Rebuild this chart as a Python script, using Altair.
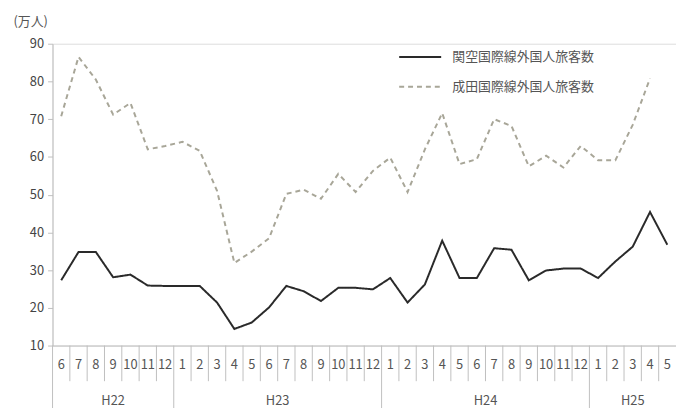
import altair as alt
import pandas as pd

# ---- data ----
years = ["H22", "H23", "H24", "H25"]
months_h22 = [6, 7, 8, 9, 10, 11, 12]
months_h23 = [1, 2, 3, 4, 5, 6, 7, 8, 9, 10, 11, 12]
months_h24 = [1, 2, 3, 4, 5, 6, 7, 8, 9, 10, 11, 12]
months_h25 = [1, 2, 3, 4, 5]

series_names = ["関空国際線外国人旅客数", "成田国際線外国人旅客数"]

kansai = [27.3, 34.8, 34.8, 28.1, 28.8, 25.9, 25.8,
          25.8, 25.8, 21.4, 14.4, 16.1, 20.1, 25.8, 24.4, 21.8, 25.3, 25.3, 24.9,
          27.9, 21.4, 26.2, 37.8, 27.9, 27.9, 35.8, 35.4, 27.3, 29.9, 30.4, 30.4,
          27.9, 32.3, 36.2, 45.4, 36.7]
narita = [70.8, 86.5, 80.5, 71.2, 74.3, 62.0, 62.9,
          64.0, 61.6, 51.0, 31.9, 34.9, 38.4, 50.2, 51.3, 48.9, 55.5, 50.7, 56.3,
          59.8, 50.7, 62.0, 71.6, 58.1, 59.4, 70.0, 68.2, 57.5, 60.3, 57.2, 62.9,
          59.1, 59.1, 68.5, 80.8, None]

y_ticks = [10, 20, 30, 40, 50, 60, 70, 80, 90]

# ---- tables built from the lists ----
month_groups = [months_h22, months_h23, months_h24, months_h25]
rows = []
idx = 0
year_rows = []
for yname, ms in zip(years, month_groups):
    start = idx
    for m in ms:
        rows.append({"i": idx, "month": str(m), "year": yname})
        idx += 1
    year_rows.append({"year": yname, "start": start - 0.5, "mid": (start + idx - 1) / 2})
n = idx
cat = pd.DataFrame(rows)
yr = pd.DataFrame(year_rows)

long_rows = []
for name, vals in zip(series_names, [kansai, narita]):
    for i, v in enumerate(vals):
        if v is not None:
            long_rows.append({"i": i, "value": v, "series": name})
df = pd.DataFrame(long_rows)

year_starts = set(yr["start"].tolist())
month_bounds = pd.DataFrame({"b": [k + 0.5 for k in range(n - 1) if (k + 0.5) not in year_starts]})

W, H = 630, 305
GREY = "#bfbfbf"
TXT = "#555555"
FONT = "Noto Sans CJK JP"

xscale = alt.Scale(domain=[-0.5, n - 0.5], nice=False, zero=False)

lines = alt.Chart(df).mark_line(strokeWidth=2).encode(
    x=alt.X("i:Q", scale=xscale,
            axis=alt.Axis(labels=False, ticks=False, grid=False, title=None,
                          domainColor=GREY, domainWidth=1)),
    y=alt.Y("value:Q", scale=alt.Scale(domain=[10, 90], nice=False, zero=False),
            axis=alt.Axis(values=y_ticks, grid=False, title="(万人)", titleAngle=0,
                          titleX=-40, titleY=-22, titleAlign="left", titleBaseline="middle",
                          titleFontSize=13, titleFontWeight="normal", titleColor=TXT,
                          labelFontSize=13, labelColor="#444444", labelPadding=4,
                          tickSize=5, tickColor=GREY, domainColor=GREY)),
    color=alt.Color("series:N", scale=alt.Scale(domain=series_names, range=["#2a2a2a", "#a8a698"]),
                    legend=alt.Legend(title=None, orient="none", legendX=349, legendY=-9,
                                      symbolType="stroke", symbolSize=1800, symbolStrokeWidth=2,
                                      labelFontSize=13, labelColor=TXT, labelFont=FONT,
                                      rowPadding=0, labelOffset=10)),
    strokeDash=alt.StrokeDash("series:N", scale=alt.Scale(domain=series_names, range=[[1, 0], [5, 4]]),
                              legend=None),
)

month_text = alt.Chart(cat).mark_text(fontSize=13, color=TXT, font=FONT, baseline="middle").encode(
    x=alt.X("i:Q", scale=xscale), y=alt.value(H + 20), text="month:N")

month_rules = alt.Chart(month_bounds).mark_rule(color=GREY, strokeWidth=1).encode(
    x=alt.X("b:Q", scale=xscale), y=alt.value(H), y2=alt.value(H + 36))

year_rules = alt.Chart(yr).mark_rule(color=GREY, strokeWidth=1).encode(
    x=alt.X("start:Q", scale=xscale), y=alt.value(H), y2=alt.value(H + 70))

year_text = alt.Chart(yr).mark_text(fontSize=13, color=TXT, font=FONT, baseline="middle").encode(
    x=alt.X("mid:Q", scale=xscale), y=alt.value(H + 56), text="year:N")

chart = alt.layer(lines, month_rules, year_rules, month_text, year_text).properties(
    width=W, height=H,
    autosize=alt.AutoSizeParams(type="none"),
    padding={"left": 45, "top": 34, "right": 0, "bottom": 61},
).configure_view(stroke=None).configure(font=FONT)

chart.save("out.html", embed_options={"renderer": "svg", "actions": False})
